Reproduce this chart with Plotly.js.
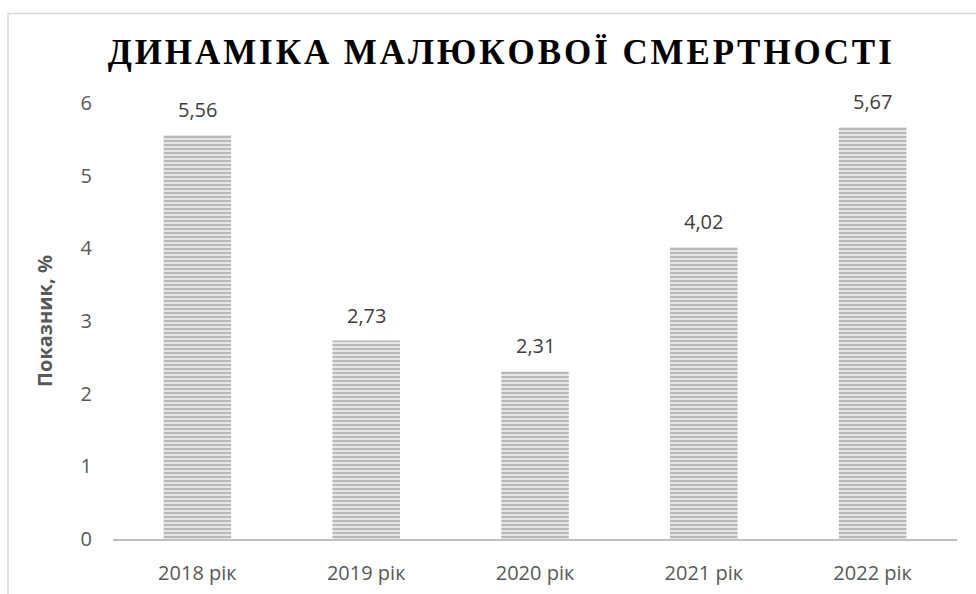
<!DOCTYPE html>
<html>
<head>
<meta charset="utf-8">
<script src="https://cdn.plot.ly/plotly-3.0.1.min.js"></script>
<style>
html,body{margin:0;padding:0;background:#fff;}
#chart{width:976px;height:594px;}
</style>
</head>
<body>
<div id="chart"></div>
<script>
var categories = ["2018 рік", "2019 рік", "2020 рік", "2021 рік", "2022 рік"];
var values = [5.56, 2.73, 2.31, 4.02, 5.67];
var yTicks = [0, 1, 2, 3, 4, 5, 6];
var titleText = "ДИНАМІКА МАЛЮКОВОЇ СМЕРТНОСТІ";
var yTitle = "Показник, %";

function fmt(v){ return v.toFixed(2).replace('.', ','); }
function spaced(s){ return s.split('').join('\u200A'); }

var trace = {
  type: 'bar',
  x: categories,
  y: values,
  marker: {
    color: '#e4e4e4',
    line: {width: 0},
    pattern: {shape: '-', size: 4, solidity: 0.5, fgcolor: '#b8b8b8', bgcolor: '#e6e6e6', fillmode: 'replace'}
  },
  hoverinfo: 'none'
};

var annotations = categories.map(function(c, i){
  return {
    x: c, y: values[i], xref: 'x', yref: 'y',
    text: fmt(values[i]), showarrow: false,
    yanchor: 'bottom', yshift: 10,
    font: {family: 'Open Sans, sans-serif', size: 20, color: '#404040'}
  };
});

var layout = {
  width: 976, height: 594,
  margin: {l: 113, r: 19, t: 103, b: 55},
  paper_bgcolor: '#ffffff', plot_bgcolor: '#ffffff',
  bargap: 0.6,
  showlegend: false,
  title: {
    text: '<b>' + spaced(titleText) + '</b>',
    x: 0.512, xanchor: 'center', y: 0.913, yanchor: 'middle',
    font: {family: 'Liberation Serif, Times New Roman, serif', size: 35, color: '#000000'}
  },
  xaxis: {
    type: 'category',
    showline: true, linecolor: '#c0c0c0', linewidth: 2,
    ticks: '', showgrid: false, zeroline: false,
    tickfont: {family: 'Open Sans, sans-serif', size: 20, color: '#595959'},
    ticklabelstandoff: 15
  },
  yaxis: {
    range: [0, 6], tickvals: yTicks, ticktext: yTicks.map(String),
    showgrid: false, zeroline: false, showline: false, ticks: '',
    tickfont: {family: 'Open Sans, sans-serif', size: 20, color: '#595959'},
    ticklabelstandoff: 20,
    title: {text: '<b>' + yTitle + '</b>', standoff: 22,
      font: {family: 'Open Sans, sans-serif', size: 20, color: '#595959'}}
  },
  annotations: annotations,
  shapes: [{
    type: 'rect', xref: 'paper', yref: 'paper',
    x0: -0.1244, x1: 1.1, y0: -0.3, y1: 1.2053,
    line: {color: '#d9d9d9', width: 1.5}, fillcolor: 'rgba(0,0,0,0)', layer: 'below'
  }]
};

Plotly.newPlot('chart', [trace], layout, {displayModeBar: false, staticPlot: true});
</script>
</body>
</html>
